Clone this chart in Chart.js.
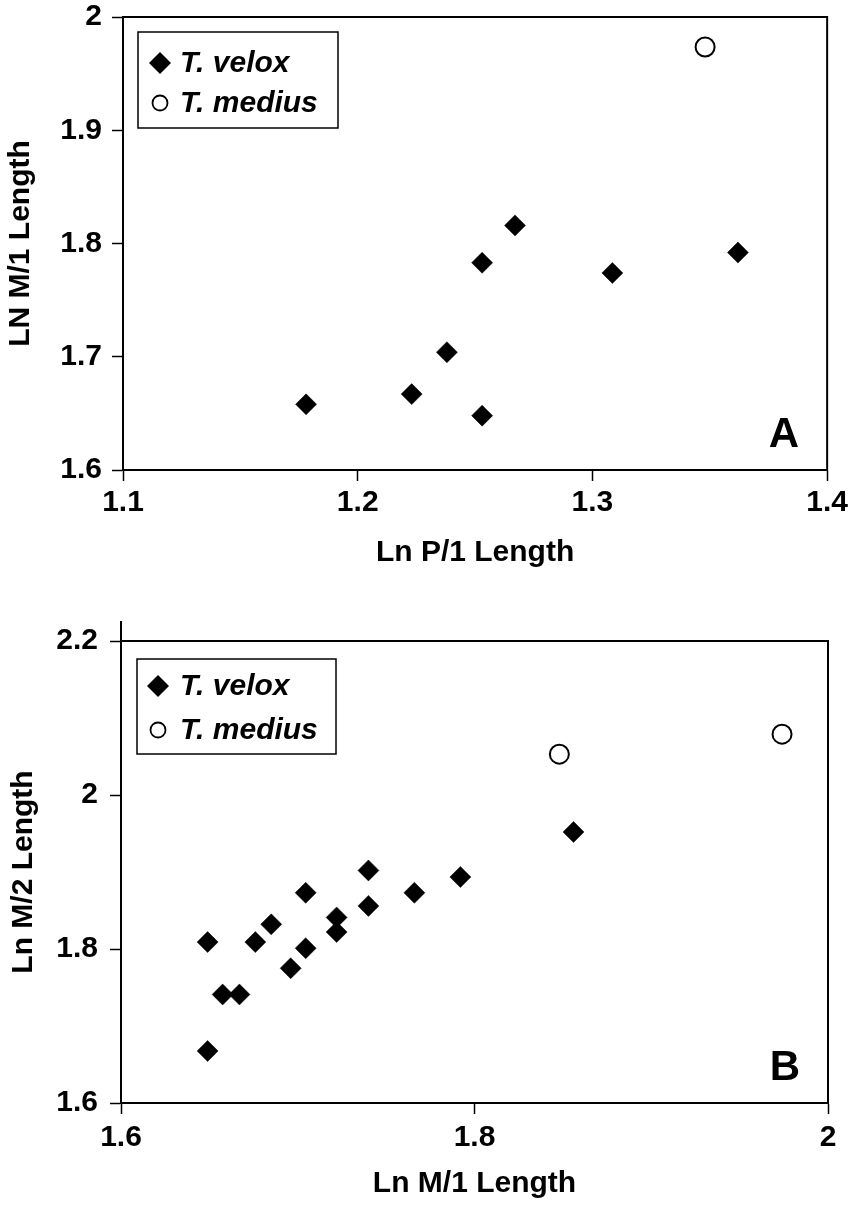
<!DOCTYPE html>
<html>
<head>
<meta charset="utf-8">
<script src="https://cdn.jsdelivr.net/npm/chart.js@4.4.1/dist/chart.umd.min.js"></script>
<style>
  body { margin: 0; background: #fff; }
  .panel { position: absolute; left: 0; width: 855px; }
  #panelA { top: 0; height: 600px; }
  #panelB { top: 600px; height: 605px; }
</style>
</head>
<body>
<div class="panel" id="panelA"><canvas id="chartA"></canvas></div>
<div class="panel" id="panelB"><canvas id="chartB"></canvas></div>
<script>
// Panel A: Ln P/1 vs Ln M/1
const veloxP1 = [1.178, 1.223, 1.238, 1.253, 1.253, 1.267, 1.3085, 1.362];
const veloxM1a = [1.658, 1.667, 1.704, 1.648, 1.783, 1.816, 1.774, 1.792];
const mediusP1 = [1.348];
const mediusM1a = [1.9735];
const xTicksA = [1.1, 1.2, 1.3, 1.4];
const yTicksA = [1.6, 1.7, 1.8, 1.9, 2];

// Panel B: Ln M/1 vs Ln M/2
const veloxM1b = [1.649, 1.649, 1.6575, 1.667, 1.676, 1.685, 1.696, 1.7045,
  1.7045, 1.722, 1.722, 1.740, 1.740, 1.766, 1.792, 1.856];
const veloxM2 = [1.809, 1.6675, 1.741, 1.741, 1.809, 1.832, 1.775, 1.801,
  1.873, 1.841, 1.822, 1.856, 1.902, 1.873, 1.8935, 1.952];
const mediusM1b = [1.848, 1.974];
const mediusM2 = [2.053, 2.079];
const xTicksB = [1.6, 1.8, 2];
const yTicksB = [1.6, 1.8, 2, 2.2];

const FONT = "'Liberation Sans', Arial, sans-serif";
const xTickFont = { family: FONT, size: 30, weight: 'bold', lineHeight: 1 };
// small lineHeight so the top label doesn't push the plot area down
const yTickFont = { family: FONT, size: 30, weight: 'bold', lineHeight: 0.4 };
const titleFont = { family: FONT, size: 30, weight: 'bold' };

function zip(xs, ys) {
  return xs.map((x, i) => ({ x: x, y: ys[i] }));
}

function datasets(vx, vy, mx, my) {
  return [
    {
      label: 'T. velox',
      data: zip(vx, vy),
      pointStyle: 'rectRot',
      pointRadius: 10.5,
      backgroundColor: '#000',
      borderColor: '#000',
      borderWidth: 0.5
    },
    {
      label: 'T. medius',
      data: zip(mx, my),
      pointStyle: 'circle',
      pointRadius: 9.5,
      backgroundColor: '#fff',
      borderColor: '#000',
      borderWidth: 2
    }
  ];
}

function axis(min, max, ticks, title, o) {
  return {
    type: 'linear',
    min: min,
    max: max,
    afterBuildTicks: s => { s.ticks = ticks.map(v => ({ value: v })); },
    afterFit: s => {
      if (o.width) s.width = o.width;
      if (o.height) s.height = o.height;
    },
    grid: { drawOnChartArea: false, drawTicks: true, tickLength: 11, tickWidth: 1.5, tickColor: '#000' },
    border: { display: true, color: '#000', width: 2 },
    ticks: {
      color: '#000',
      font: o.font,
      padding: o.pad,
      maxRotation: 0,
      autoSkip: false,
      callback: v => String(Number(v.toFixed(2)))
    },
    title: { display: true, text: title, color: '#000', font: titleFont, padding: o.titlePad }
  };
}

// frame round the plot area
const frame = {
  id: 'frame',
  beforeDatasetsDraw(chart, args, opts) {
    const { ctx, chartArea: a } = chart;
    ctx.save();
    ctx.strokeStyle = '#000';
    ctx.lineWidth = 2;
    ctx.strokeRect(a.left, a.top, a.right - a.left, a.bottom - a.top);
    if (opts.extendTop) {
      ctx.beginPath();
      ctx.moveTo(a.left, a.top);
      ctx.lineTo(a.left, a.top - opts.extendTop);
      ctx.stroke();
    }
    ctx.restore();
  }
};

// boxed legend inside the plot, plus the panel letter
const boxLegend = {
  id: 'boxLegend',
  afterDraw(chart, args, opts) {
    const { ctx, chartArea: a } = chart;
    const bx = a.left + opts.dx, by = a.top + opts.dy;
    ctx.save();
    ctx.fillStyle = '#fff';
    ctx.fillRect(bx, by, opts.w, opts.h);
    ctx.strokeStyle = '#000';
    ctx.lineWidth = 1.5;
    ctx.strokeRect(bx, by, opts.w, opts.h);

    chart.data.datasets.forEach((ds, i) => {
      const cx = bx + opts.symX;
      const cy = by + opts.rowY[i];
      ctx.beginPath();
      if (ds.pointStyle === 'rectRot') {
        const r = 11;
        ctx.moveTo(cx - r, cy);
        ctx.lineTo(cx, cy - r);
        ctx.lineTo(cx + r, cy);
        ctx.lineTo(cx, cy + r);
        ctx.closePath();
        ctx.fillStyle = '#000';
        ctx.fill();
      } else {
        ctx.arc(cx, cy, 7.5, 0, Math.PI * 2);
        ctx.fillStyle = '#fff';
        ctx.fill();
        ctx.lineWidth = 1.8;
        ctx.stroke();
      }
      ctx.fillStyle = '#000';
      ctx.font = "italic bold 30px " + FONT;
      ctx.textAlign = 'left';
      ctx.textBaseline = 'middle';
      ctx.fillText(ds.label, bx + opts.textX, cy + 1);
    });

    ctx.font = "bold 42px " + FONT;
    ctx.textAlign = 'right';
    ctx.textBaseline = 'alphabetic';
    ctx.fillText(opts.letter, a.right - 28, a.bottom - 23);
    ctx.restore();
  }
};

new Chart(document.getElementById('chartA'), {
  type: 'scatter',
  data: { datasets: datasets(veloxP1, veloxM1a, mediusP1, mediusM1a) },
  options: {
    responsive: true,
    maintainAspectRatio: false,
    animation: false,
    layout: { padding: { left: 0, top: 17, right: 27, bottom: 0 } },
    plugins: {
      legend: { display: false },
      tooltip: { enabled: false },
      frame: {},
      boxLegend: { dx: 15, dy: 15, w: 200, h: 96, rowY: [31, 71], symX: 22, textX: 42, letter: 'A' }
    },
    scales: {
      x: axis(1.1, 1.4, xTicksA, 'Ln P/1 Length', { font: xTickFont, height: 130, pad: 7, titlePad: { top: 0, bottom: 29 } }),
      y: axis(1.6, 2, yTicksA, 'LN M/1 Length', { font: yTickFont, width: 123, pad: 10, titlePad: { top: 3, bottom: 0 } })
    }
  },
  plugins: [frame, boxLegend]
});

new Chart(document.getElementById('chartB'), {
  type: 'scatter',
  data: { datasets: datasets(veloxM1b, veloxM2, mediusM1b, mediusM2) },
  options: {
    responsive: true,
    maintainAspectRatio: false,
    animation: false,
    layout: { padding: { left: 0, top: 41, right: 27, bottom: 0 } },
    plugins: {
      legend: { display: false },
      tooltip: { enabled: false },
      frame: { extendTop: 20 },
      boxLegend: { dx: 16, dy: 18, w: 199, h: 95, rowY: [27, 71], symX: 21, textX: 43, letter: 'B' }
    },
    scales: {
      x: axis(1.6, 2, xTicksB, 'Ln M/1 Length', { font: xTickFont, height: 102, pad: 9, titlePad: { top: 0, bottom: 3 } }),
      y: axis(1.6, 2.2, yTicksB, 'Ln M/2 Length', { font: yTickFont, width: 121, pad: 12, titlePad: { top: 6, bottom: 0 } })
    }
  },
  plugins: [frame, boxLegend]
});
</script>
</body>
</html>
